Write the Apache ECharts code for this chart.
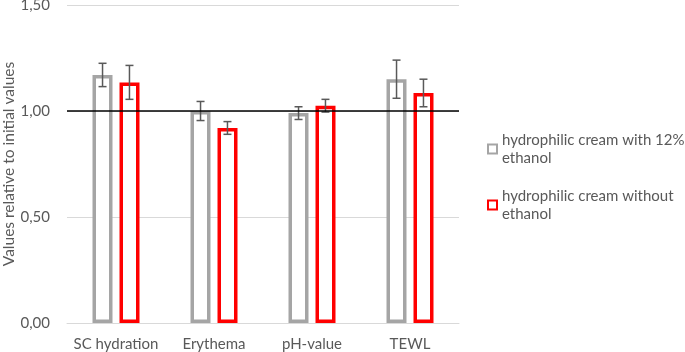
<!DOCTYPE html>
<html>
<head>
<meta charset="utf-8">
<script src="https://cdn.jsdelivr.net/npm/echarts@6/dist/echarts.min.js"></script>
<style>
html, body { margin: 0; padding: 0; background: #fff; }
#chart { width: 685px; height: 352px; }
</style>
</head>
<body>
<div id="chart"></div>
<script>
// categories and values
const categories = ['SC hydration', 'Erythema', 'pH-value', 'TEWL'];
const seriesNames = ['hydrophilic cream with 12% ethanol', 'hydrophilic cream without ethanol'];
const legendLabels = ['hydrophilic cream with 12%\nethanol', 'hydrophilic cream without\nethanol'];
const withEthanol = [1.17, 1.00, 0.99, 1.15];
const withEthanolErr = [0.055, 0.045, 0.03, 0.09];
const withoutEthanol = [1.135, 0.92, 1.025, 1.085];
const withoutEthanolErr = [0.08, 0.03, 0.03, 0.065];
const yTicks = [0, 0.5, 1.0, 1.5];

const chart = echarts.init(document.getElementById('chart'));
const textColor = '#595959';
const font = 'Lato';

// error bar drawn with a custom series, shifted onto its bar
function errorSeries(values, errs, shift) {
    return {
        type: 'custom',
        silent: true,
        z: 5,
        data: values.map((v, i) => [i, v - errs[i], v + errs[i]]),
        renderItem: function (params, api) {
            const lo = api.coord([api.value(0), api.value(1)]);
            const hi = api.coord([api.value(0), api.value(2)]);
            const band = api.size([1, 0])[0];
            const x = lo[0] + band * shift;
            const cap = 4;
            const style = { stroke: '#595959', lineWidth: 1.5 };
            return {
                type: 'group',
                children: [
                    { type: 'line', shape: { x1: x, y1: hi[1], x2: x, y2: lo[1] }, style: style },
                    { type: 'line', shape: { x1: x - cap, y1: hi[1], x2: x + cap, y2: hi[1] }, style: style },
                    { type: 'line', shape: { x1: x - cap, y1: lo[1], x2: x + cap, y2: lo[1] }, style: style },
                ],
            };
        },
    };
}

const option = {
    animation: false,
    backgroundColor: '#fff',
    textStyle: { fontFamily: font },
    grid: { left: 67, right: 226, top: 5, bottom: 29, containLabel: false, outerBoundsMode: 'none' },
    legend: {
        orient: 'vertical',
        left: 482,
        top: 117,
        itemWidth: 9,
        itemHeight: 9,
        itemGap: 2,
        icon: 'rect',
        data: seriesNames,
        formatter: function (name) {
            return legendLabels[seriesNames.indexOf(name)];
        },
        textStyle: { color: textColor, fontSize: 15, fontFamily: font, lineHeight: 18, padding: [18, 0, 0, 0] },
    },
    xAxis: {
        type: 'category',
        data: categories,
        axisLine: { lineStyle: { color: '#D9D9D9', width: 1 } },
        axisTick: { show: false },
        axisLabel: { color: textColor, fontSize: 15, fontFamily: font, margin: 14, interval: 0 },
    },
    yAxis: {
        type: 'value',
        min: yTicks[0],
        max: yTicks[yTicks.length - 1],
        interval: 0.5,
        name: 'Values relative to initial values',
        nameLocation: 'middle',
        nameGap: 50,
        nameMoveOverlap: false,
        nameTextStyle: { color: textColor, fontSize: 15.5, fontFamily: font },
        axisLine: { show: false },
        axisTick: { show: false },
        axisLabel: {
            color: textColor,
            fontSize: 15,
            fontFamily: font,
            margin: 17,
            formatter: v => v.toFixed(2).replace('.', ','),
        },
        splitLine: { lineStyle: { color: '#D9D9D9', width: 1 } },
    },
    series: [
        {
            name: seriesNames[0],
            type: 'bar',
            data: withEthanol,
            barWidth: 20,
            barGap: '35%',
            itemStyle: { color: '#fff', borderColor: '#A5A5A5', borderWidth: 3.5 },
        },
        {
            name: seriesNames[1],
            type: 'bar',
            data: withoutEthanol,
            barWidth: 20,
            itemStyle: { color: '#fff', borderColor: '#FF0000', borderWidth: 3.5 },
            markLine: {
                silent: true,
                symbol: ['none', 'none'],
                label: { show: false },
                lineStyle: { color: '#000', width: 1.5, type: 'solid' },
                data: [{ yAxis: 1 }],
                z: 10,
            },
        },
        errorSeries(withEthanol, withEthanolErr, -0.1374),
        errorSeries(withoutEthanol, withoutEthanolErr, 0.1374),
    ],
};

chart.setOption(option);
</script>
</body>
</html>
